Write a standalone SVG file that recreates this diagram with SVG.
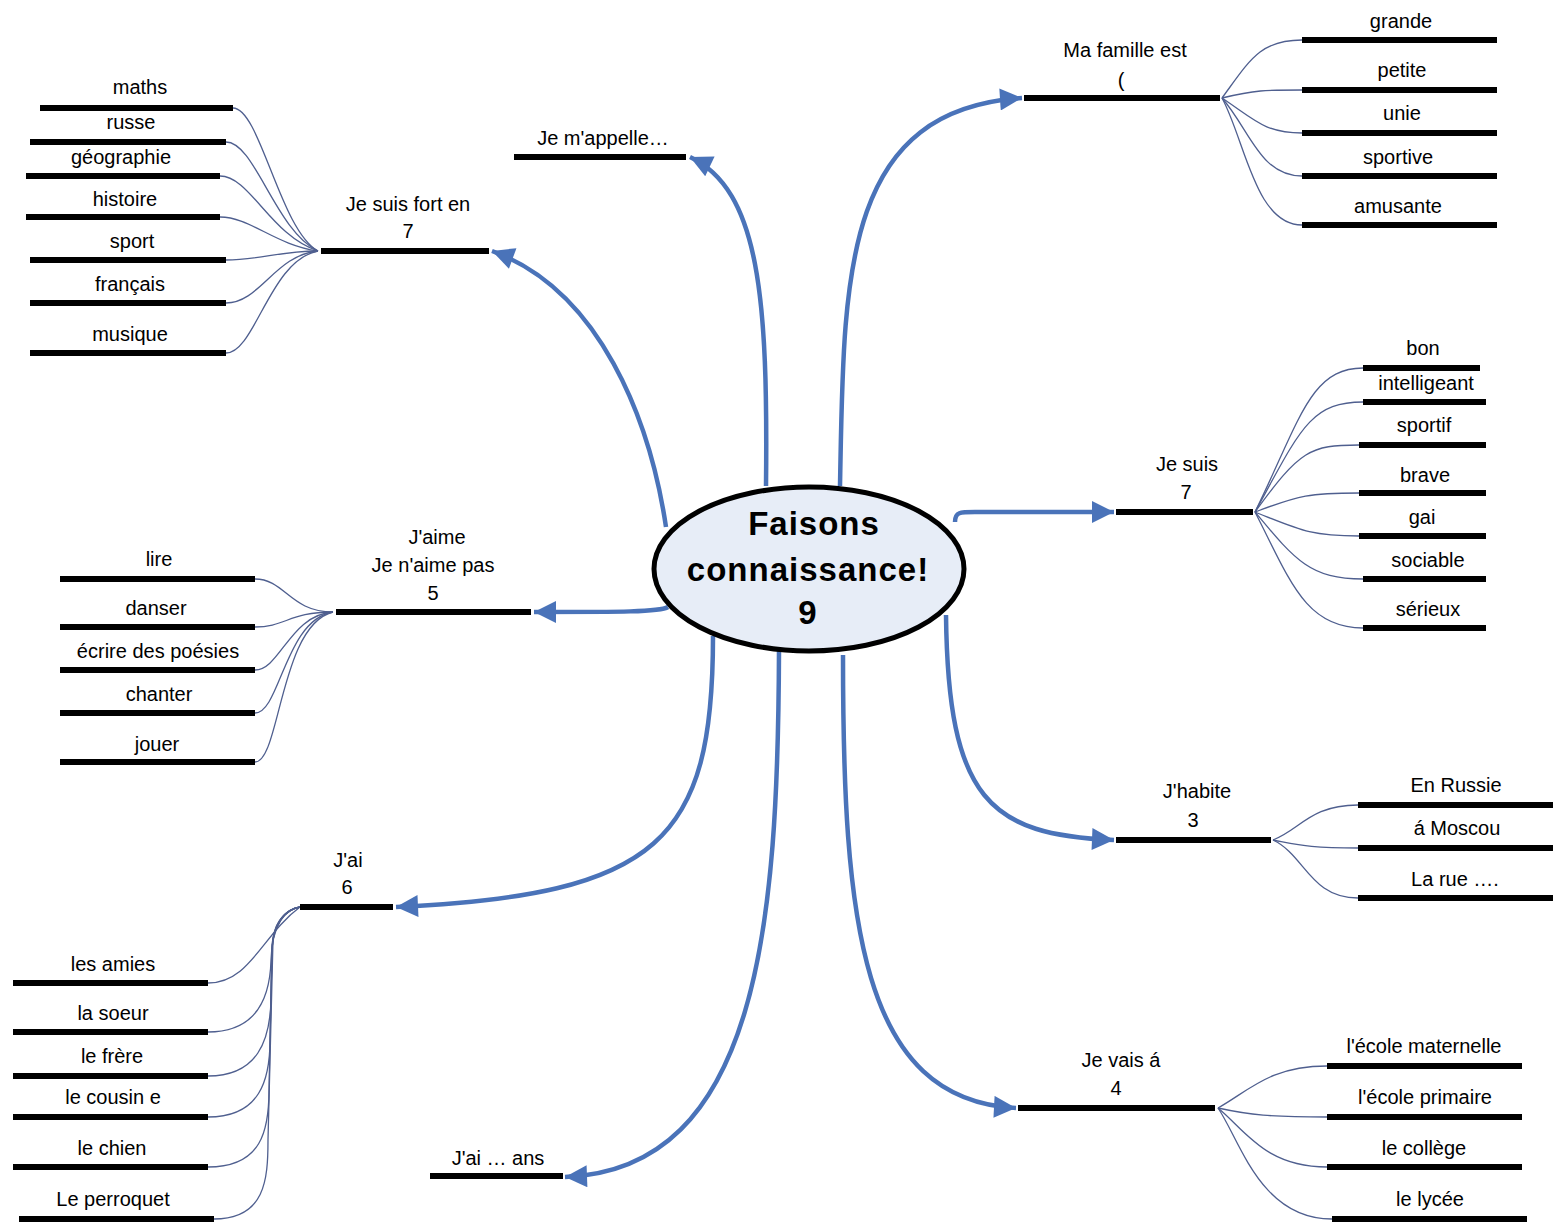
<svg xmlns="http://www.w3.org/2000/svg" width="1556" height="1225" viewBox="0 0 1556 1225">
<defs>
<style>
.bar{stroke:#000;stroke-width:6;fill:none}
.arr{stroke:#4a73b9;stroke-width:4.5;fill:none;marker-end:url(#ah)}
.thin{stroke:#4f5f8f;stroke-width:1.3;fill:none}
text{font-family:"Liberation Sans",Arial,sans-serif;font-size:20px;fill:#000;text-anchor:middle}
.title{font-weight:bold;font-size:33px;letter-spacing:1px}
</style>
<marker id="ah" viewBox="0 0 10 10" markerUnits="userSpaceOnUse" markerWidth="30" markerHeight="22" refX="10" refY="5" orient="auto">
<path d="M0,0 L10,5 L0,10 z" fill="#4a73b9"/>
</marker>
</defs>
<rect width="1556" height="1225" fill="#fff"/>

<g id="connectors">
<path class="arr" d="M766,486 C768,300 760,190 690,157"/>
<path class="arr" d="M666,527 C650,420 600,290 492,251"/>
<path class="arr" d="M840,486 C844,280 840,110 1022,98"/>
<path class="arr" d="M955,522 C955,512 960,512 975,512 L1114,512"/>
<path class="arr" d="M668,607 C660,612 620,612 534,612"/>
<path class="arr" d="M946,615 C948,800 990,835 1114,840"/>
<path class="arr" d="M713,636 C713,840 660,895 396,907"/>
<path class="arr" d="M779,650 C778,920 760,1170 565,1177"/>
<path class="arr" d="M843,655 C843,920 860,1100 1016,1108"/>
<!-- Je suis fort en leaves -->
<path class="thin" d="M233,108 C260,108 280,230 318,251"/>
<path class="thin" d="M226,142 C255,142 275,230 318,251"/>
<path class="thin" d="M220,176 C250,176 270,235 318,251"/>
<path class="thin" d="M220,217 C250,217 275,245 318,251"/>
<path class="thin" d="M226,260 C260,260 280,251 318,251"/>
<path class="thin" d="M226,303 C260,303 275,255 318,251"/>
<path class="thin" d="M226,353 C255,353 270,260 318,251"/>
<!-- Ma famille leaves -->
<path class="thin" d="M1222,98 C1250,60 1260,40 1302,40"/>
<path class="thin" d="M1222,98 C1255,90 1265,90 1302,90"/>
<path class="thin" d="M1222,98 C1255,120 1265,133 1302,133"/>
<path class="thin" d="M1222,98 C1250,130 1260,176 1302,176"/>
<path class="thin" d="M1222,98 C1245,140 1255,225 1302,225"/>
<!-- Je suis leaves -->
<path class="thin" d="M1255,512 C1300,420 1310,368 1363,368"/>
<path class="thin" d="M1255,512 C1300,430 1310,402 1363,402"/>
<path class="thin" d="M1255,512 C1300,450 1310,445 1359,445"/>
<path class="thin" d="M1255,512 C1300,495 1310,493 1359,493"/>
<path class="thin" d="M1255,512 C1300,530 1310,536 1359,536"/>
<path class="thin" d="M1255,512 C1295,560 1310,579 1363,579"/>
<path class="thin" d="M1255,512 C1290,580 1305,628 1363,628"/>
<!-- J'aime leaves -->
<path class="thin" d="M255,579 C285,579 290,612 333,612"/>
<path class="thin" d="M255,627 C285,627 290,612 333,612"/>
<path class="thin" d="M255,670 C280,670 290,615 333,612"/>
<path class="thin" d="M255,713 C280,713 285,620 333,612"/>
<path class="thin" d="M255,762 C280,762 280,625 333,612"/>
<!-- J'ai leaves -->
<path class="thin" d="M208,983 C250,983 262,935 300,907"/>
<path class="thin" d="M208,1032 C255,1032 270,1000 271,960 C272,925 285,909 300,907"/>
<path class="thin" d="M208,1076 C258,1076 270,1040 271,1000 L272,950 C273,922 286,909 300,907"/>
<path class="thin" d="M208,1117 C260,1117 270,1080 270,1040 L272,950 C273,922 287,909 300,907"/>
<path class="thin" d="M208,1167 C262,1167 269,1130 269,1090 L272,945 C274,920 288,909 300,907"/>
<path class="thin" d="M214,1219 C265,1219 268,1180 268,1140 L273,940 C275,918 289,909 300,907"/>
<!-- J'habite leaves -->
<path class="thin" d="M1273,840 C1300,830 1310,805 1358,805"/>
<path class="thin" d="M1273,840 C1300,845 1310,848 1358,848"/>
<path class="thin" d="M1273,840 C1305,855 1310,898 1358,898"/>
<!-- Je vais leaves -->
<path class="thin" d="M1218,1108 C1250,1090 1270,1066 1327,1066"/>
<path class="thin" d="M1218,1108 C1250,1115 1270,1117 1327,1117"/>
<path class="thin" d="M1218,1108 C1245,1130 1265,1167 1327,1167"/>
<path class="thin" d="M1218,1108 C1240,1140 1260,1219 1332,1219"/>
</g>

<g id="center">
<ellipse cx="809" cy="569" rx="155" ry="82" fill="#e7edf7" stroke="#000" stroke-width="5"/>
<text class="title" x="814" y="535">Faisons</text>
<text class="title" x="808" y="581">connaissance!</text>
<text class="title" x="808" y="624">9</text>
</g>

<g id="n-appelle">
<line class="bar" x1="514" y1="157" x2="686" y2="157"/>
<text x="603" y="145">Je m'appelle…</text>
</g>

<g id="n-fort">
<line class="bar" x1="321" y1="251" x2="489" y2="251"/>
<text x="408" y="211">Je suis fort en</text>
<text x="408" y="238">7</text>
</g>
<g id="l-maths"><line class="bar" x1="40" y1="108" x2="233" y2="108"/><text x="140" y="94">maths</text></g>
<g id="l-russe"><line class="bar" x1="30" y1="142" x2="226" y2="142"/><text x="131" y="129">russe</text></g>
<g id="l-geo"><line class="bar" x1="26" y1="176" x2="220" y2="176"/><text x="121" y="164">géographie</text></g>
<g id="l-hist"><line class="bar" x1="26" y1="217" x2="220" y2="217"/><text x="125" y="206">histoire</text></g>
<g id="l-sport"><line class="bar" x1="30" y1="260" x2="226" y2="260"/><text x="132" y="248">sport</text></g>
<g id="l-fr"><line class="bar" x1="30" y1="303" x2="226" y2="303"/><text x="130" y="291">français</text></g>
<g id="l-mus"><line class="bar" x1="30" y1="353" x2="226" y2="353"/><text x="130" y="341">musique</text></g>

<g id="n-famille">
<line class="bar" x1="1024" y1="98" x2="1220" y2="98"/>
<text x="1125" y="57">Ma famille est</text>
<text x="1121" y="87">(</text>
</g>
<g id="l-grande"><line class="bar" x1="1302" y1="40" x2="1497" y2="40"/><text x="1401" y="28">grande</text></g>
<g id="l-petite"><line class="bar" x1="1302" y1="90" x2="1497" y2="90"/><text x="1402" y="77">petite</text></g>
<g id="l-unie"><line class="bar" x1="1302" y1="133" x2="1497" y2="133"/><text x="1402" y="120">unie</text></g>
<g id="l-sportive"><line class="bar" x1="1302" y1="176" x2="1497" y2="176"/><text x="1398" y="164">sportive</text></g>
<g id="l-amusante"><line class="bar" x1="1302" y1="225" x2="1497" y2="225"/><text x="1398" y="213">amusante</text></g>

<g id="n-suis">
<line class="bar" x1="1116" y1="512" x2="1253" y2="512"/>
<text x="1187" y="471">Je suis</text>
<text x="1186" y="499">7</text>
</g>
<g id="l-bon"><line class="bar" x1="1363" y1="368" x2="1480" y2="368"/><text x="1423" y="355">bon</text></g>
<g id="l-intel"><line class="bar" x1="1363" y1="402" x2="1486" y2="402"/><text x="1426" y="390">intelligeant</text></g>
<g id="l-sportif"><line class="bar" x1="1359" y1="445" x2="1486" y2="445"/><text x="1424" y="432">sportif</text></g>
<g id="l-brave"><line class="bar" x1="1359" y1="493" x2="1486" y2="493"/><text x="1425" y="482">brave</text></g>
<g id="l-gai"><line class="bar" x1="1359" y1="536" x2="1486" y2="536"/><text x="1422" y="524">gai</text></g>
<g id="l-sociable"><line class="bar" x1="1363" y1="579" x2="1486" y2="579"/><text x="1428" y="567">sociable</text></g>
<g id="l-serieux"><line class="bar" x1="1363" y1="628" x2="1486" y2="628"/><text x="1428" y="616">sérieux</text></g>

<g id="n-aime">
<line class="bar" x1="336" y1="612" x2="531" y2="612"/>
<text x="437" y="544">J'aime</text>
<text x="433" y="572">Je n'aime pas</text>
<text x="433" y="600">5</text>
</g>
<g id="l-lire"><line class="bar" x1="60" y1="579" x2="255" y2="579"/><text x="159" y="566">lire</text></g>
<g id="l-danser"><line class="bar" x1="60" y1="627" x2="255" y2="627"/><text x="156" y="615">danser</text></g>
<g id="l-ecrire"><line class="bar" x1="60" y1="670" x2="255" y2="670"/><text x="158" y="658">écrire des poésies</text></g>
<g id="l-chanter"><line class="bar" x1="60" y1="713" x2="255" y2="713"/><text x="159" y="701">chanter</text></g>
<g id="l-jouer"><line class="bar" x1="60" y1="762" x2="255" y2="762"/><text x="157" y="751">jouer</text></g>

<g id="n-habite">
<line class="bar" x1="1116" y1="840" x2="1271" y2="840"/>
<text x="1197" y="798">J'habite</text>
<text x="1193" y="827">3</text>
</g>
<g id="l-russie"><line class="bar" x1="1358" y1="805" x2="1553" y2="805"/><text x="1456" y="792">En Russie</text></g>
<g id="l-moscou"><line class="bar" x1="1358" y1="848" x2="1553" y2="848"/><text x="1457" y="835">á Moscou</text></g>
<g id="l-rue"><line class="bar" x1="1358" y1="898" x2="1553" y2="898"/><text x="1455" y="886">La rue ….</text></g>

<g id="n-jai">
<line class="bar" x1="300" y1="907" x2="393" y2="907"/>
<text x="348" y="867">J'ai</text>
<text x="347" y="894">6</text>
</g>
<g id="l-amies"><line class="bar" x1="13" y1="983" x2="208" y2="983"/><text x="113" y="971">les amies</text></g>
<g id="l-soeur"><line class="bar" x1="13" y1="1032" x2="208" y2="1032"/><text x="113" y="1020">la soeur</text></g>
<g id="l-frere"><line class="bar" x1="13" y1="1076" x2="208" y2="1076"/><text x="112" y="1063">le frère</text></g>
<g id="l-cousin"><line class="bar" x1="13" y1="1117" x2="208" y2="1117"/><text x="113" y="1104">le cousin e</text></g>
<g id="l-chien"><line class="bar" x1="13" y1="1167" x2="208" y2="1167"/><text x="112" y="1155">le chien</text></g>
<g id="l-perroquet"><line class="bar" x1="19" y1="1219" x2="214" y2="1219"/><text x="113" y="1206">Le perroquet</text></g>

<g id="n-vais">
<line class="bar" x1="1018" y1="1108" x2="1215" y2="1108"/>
<text x="1121" y="1067">Je vais á</text>
<text x="1116" y="1095">4</text>
</g>
<g id="l-maternelle"><line class="bar" x1="1327" y1="1066" x2="1522" y2="1066"/><text x="1424" y="1053">l'école maternelle</text></g>
<g id="l-primaire"><line class="bar" x1="1327" y1="1117" x2="1522" y2="1117"/><text x="1425" y="1104">l'école primaire</text></g>
<g id="l-college"><line class="bar" x1="1327" y1="1167" x2="1522" y2="1167"/><text x="1424" y="1155">le collège</text></g>
<g id="l-lycee"><line class="bar" x1="1332" y1="1219" x2="1527" y2="1219"/><text x="1430" y="1206">le lycée</text></g>

<g id="n-ans">
<line class="bar" x1="430" y1="1176" x2="563" y2="1176"/>
<text x="498" y="1165">J'ai … ans</text>
</g>
</svg>
